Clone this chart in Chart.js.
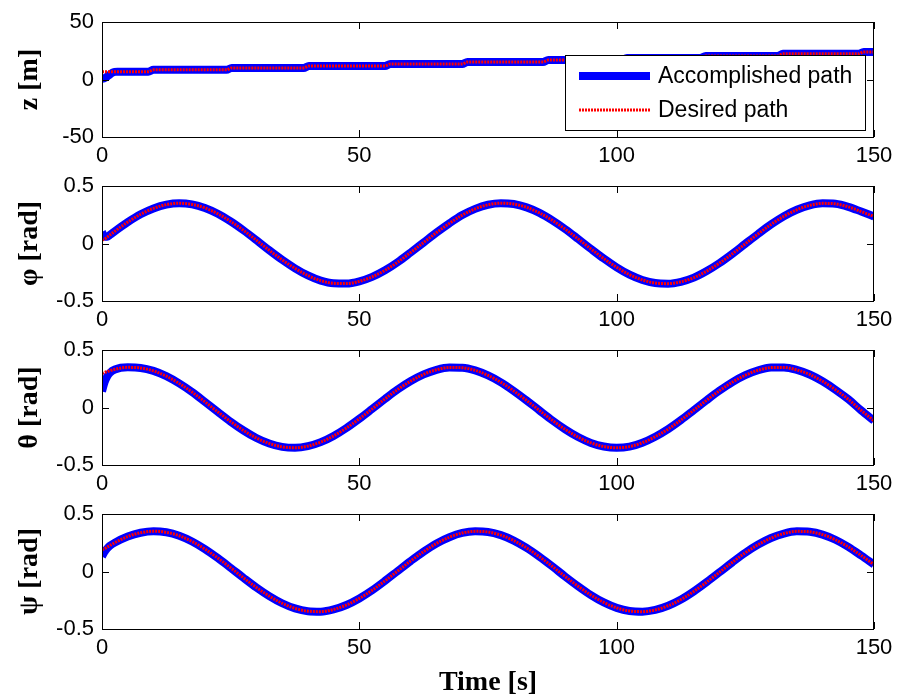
<!DOCTYPE html>
<html>
<head>
<meta charset="utf-8">
<title>Path tracking</title>
<script src="https://cdn.jsdelivr.net/npm/chart.js@4.4.0/dist/chart.umd.min.js"></script>
<style>
  html, body { margin: 0; padding: 0; background: #fff; overflow: hidden; }
  #wrap { position: relative; width: 898px; height: 700px; background: #fff; }
  #wrap canvas { position: absolute; left: 0; }
</style>
</head>
<body>
<div id="wrap">
  <canvas id="cz" width="898" height="165" style="top:12px"></canvas>
  <canvas id="cphi" width="898" height="165" style="top:176px"></canvas>
  <canvas id="ctheta" width="898" height="165" style="top:340px"></canvas>
  <canvas id="cpsi" width="898" height="196" style="top:504px"></canvas>
</div>
<script>
// --- data ---
const seriesLabels = ['Accomplished path', 'Desired path'];
const xTicks = [0, 50, 100, 150];
const zTicks = [-50, 0, 50];
const angleTicks = [-0.5, 0, 0.5];

// z [m] : stepped reference
const zTime = [0, 0.5, 1, 1.5, 2, 2.5, 3, 9, 10, 24.2, 25.2, 39.2, 40.2, 55, 56, 70, 71,
               85.7, 86.7, 101, 102, 116.3, 117.3, 131.3, 132.3, 147, 148, 150];
const zDesired = [6.8, 6.8, 6.8, 6.8, 6.8, 6.8, 6.8, 6.8, 8.4, 8.4, 10.1, 10.1, 11.8, 11.8, 13.5, 13.5, 15.2,
                  15.2, 16.9, 16.9, 18.7, 18.7, 20.5, 20.5, 22.3, 22.3, 24, 24];
const zAccStart = [0.5, 1.2, 2.5, 4.2, 5.8, 6.6, 6.8];

// angles [rad]
const time = [0, 0.5, 1, 1.5, 2.5, 5, 7.5, 10, 12.5, 15, 17.5, 20, 22.5, 25, 27.5, 30, 32.5, 35, 37.5, 40,
              42.5, 45, 47.5, 50, 52.5, 55, 57.5, 60, 62.5, 65, 67.5, 70, 72.5, 75, 77.5, 80, 82.5, 85,
              87.5, 90, 92.5, 95, 97.5, 100, 102.5, 105, 107.5, 110, 112.5, 115, 117.5, 120, 122.5, 125,
              127.5, 130, 132.5, 135, 137.5, 140, 142.5, 145, 147.5, 150];

const phiDesired = [0.03, 0.038, 0.056, 0.073, 0.107, 0.186, 0.254, 0.305, 0.338, 0.350, 0.340, 0.309,
  0.259, 0.192, 0.114, 0.029, -0.059, -0.142, -0.216, -0.278, -0.323, -0.346, -0.348, -0.329, -0.290,
  -0.233, -0.161, -0.077, 0.009, 0.095, 0.175, 0.247, 0.301, 0.337, 0.350, 0.343, 0.314, 0.266, 0.201,
  0.125, 0.040, -0.047, -0.131, -0.207, -0.271, -0.317, -0.344, -0.349, -0.333, -0.297, -0.240, -0.170,
  -0.089, -0.002, 0.084, 0.166, 0.237, 0.293, 0.331, 0.349, 0.345, 0.319, 0.278, 0.235];
const phiAccStart = [0.10, 0.06, 0.058, 0.073];

const thetaDesired = [0.295, 0.304, 0.312, 0.319, 0.332, 0.349, 0.344, 0.318, 0.272, 0.209, 0.134, 0.049,
  -0.038, -0.123, -0.200, -0.265, -0.313, -0.342, -0.350, -0.336, -0.301, -0.247, -0.178, -0.098, -0.012,
  0.075, 0.158, 0.230, 0.288, 0.328, 0.348, 0.346, 0.323, 0.279, 0.219, 0.144, 0.061, -0.026, -0.112,
  -0.190, -0.257, -0.308, -0.339, -0.350, -0.340, -0.306, -0.254, -0.188, -0.109, -0.023, 0.064, 0.147,
  0.221, 0.281, 0.324, 0.347, 0.348, 0.327, 0.287, 0.228, 0.155, 0.072, -0.025, -0.115];
const thetaAccStart = [0.14, 0.22, 0.27, 0.30, 0.33];

const psiDesired = [0.19, 0.198, 0.212, 0.225, 0.251, 0.304, 0.337, 0.350, 0.341, 0.311, 0.261, 0.195,
  0.117, 0.032, -0.055, -0.139, -0.214, -0.276, -0.321, -0.345, -0.349, -0.330, -0.291, -0.234, -0.163,
  -0.081, 0.006, 0.092, 0.173, 0.244, 0.298, 0.335, 0.349, 0.344, 0.316, 0.269, 0.205, 0.128, 0.044,
  -0.044, -0.128, -0.205, -0.269, -0.316, -0.343, -0.349, -0.334, -0.298, -0.244, -0.173, -0.092, -0.006,
  0.081, 0.163, 0.234, 0.291, 0.330, 0.349, 0.345, 0.321, 0.276, 0.214, 0.139, 0.06];
const psiAccStart = [0.13, 0.17, 0.20, 0.222];

// accomplished path = transient at start, then on top of the desired one
function withStart(start, desired) {
  return start.concat(desired.slice(start.length));
}
function pairs(xs, ys) {
  return xs.map((x, i) => ({ x: x, y: ys[i] }));
}

const tickFont = { family: '"Liberation Sans", Arial, sans-serif', size: 22 };
const titleFont = { family: '"Liberation Serif", "Times New Roman", serif', size: 28, weight: 'bold' };

// MATLAB style box with inward ticks on all four sides
const axesBox = {
  id: 'axesBox',
  afterDatasetsDraw(chart) {
    const { ctx, chartArea: a, scales: { x, y } } = chart;
    ctx.save();
    ctx.strokeStyle = '#000';
    ctx.lineWidth = 1;
    ctx.beginPath();
    x.ticks.forEach(t => {
      const px = Math.round(x.getPixelForValue(t.value)) + 0.5;
      ctx.moveTo(px, a.bottom); ctx.lineTo(px, a.bottom - 7);
      ctx.moveTo(px, a.top); ctx.lineTo(px, a.top + 7);
    });
    y.ticks.forEach(t => {
      const py = Math.round(y.getPixelForValue(t.value)) + 0.5;
      ctx.moveTo(a.left, py); ctx.lineTo(a.left + 7, py);
      ctx.moveTo(a.right, py); ctx.lineTo(a.right - 7, py);
    });
    ctx.stroke();
    ctx.strokeRect(a.left + 0.5, a.top + 0.5, a.right - a.left - 1, a.bottom - a.top);
    ctx.restore();
  }
};

// legend box inside the first axes
const pathLegend = {
  id: 'pathLegend',
  afterDatasetsDraw(chart) {
    const { ctx, chartArea: a } = chart;
    const left = a.right - 309, top = a.top + 33, w = 300, h = 75;
    ctx.save();
    ctx.fillStyle = '#fff';
    ctx.fillRect(left, top, w, h);
    ctx.strokeStyle = '#000';
    ctx.lineWidth = 1;
    ctx.strokeRect(left + 0.5, top + 0.5, w, h);
    seriesLabels.forEach((label, i) => {
      const ds = chart.data.datasets.find(d => d.label === label);
      const yy = top + 21 + i * 34;
      ctx.beginPath();
      ctx.strokeStyle = ds.borderColor;
      ctx.lineWidth = ds.borderWidth;
      ctx.setLineDash(ds.borderDash || []);
      ctx.moveTo(left + 14, yy);
      ctx.lineTo(left + 85, yy);
      ctx.stroke();
      ctx.setLineDash([]);
      ctx.fillStyle = '#000';
      ctx.font = '23px "Liberation Sans", Arial, sans-serif';
      ctx.textBaseline = 'middle';
      ctx.textAlign = 'left';
      ctx.fillText(label, left + 93, yy + 1);
    });
    ctx.restore();
  }
};

function buildChart(id, o) {
  return new Chart(document.getElementById(id), {
    type: 'line',
    data: {
      datasets: [
        {
          label: seriesLabels[0],
          data: pairs(o.t, o.acc),
          borderColor: '#0000ff',
          borderWidth: 8,
          borderJoinStyle: 'round',
          pointRadius: 0,
          cubicInterpolationMode: 'monotone',
          clip: 0,
          order: 2
        },
        {
          label: seriesLabels[1],
          data: pairs(o.t, o.des),
          borderColor: '#ff0000',
          borderWidth: 3,
          borderDash: [2, 1],
          pointRadius: 0,
          cubicInterpolationMode: 'monotone',
          clip: 0,
          order: 1
        }
      ]
    },
    options: {
      responsive: false,
      animation: false,
      devicePixelRatio: 1,
      layout: { padding: { top: 10, right: 24, left: 0, bottom: 0 } },
      plugins: { legend: { display: false }, tooltip: { enabled: false } },
      scales: {
        x: {
          type: 'linear',
          min: 0, max: 150,
          afterBuildTicks: s => { s.ticks = xTicks.map(v => ({ value: v })); },
          afterFit: s => { s.height = o.xHeight; s.paddingLeft = 0; s.paddingRight = 0; },
          grid: { display: false, drawTicks: false },
          border: { display: false },
          ticks: { font: tickFont, color: '#000', padding: 6, maxRotation: 0 },
          title: {
            display: !!o.xTitle, text: o.xTitle || '', font: titleFont, color: '#000',
            padding: { top: 0, bottom: 0 }
          }
        },
        y: {
          type: 'linear',
          min: o.yTicks[0], max: o.yTicks[o.yTicks.length - 1],
          afterBuildTicks: s => { s.ticks = o.yTicks.map(v => ({ value: v })); },
          afterFit: s => { s.width = 102; s.paddingTop = 0; s.paddingBottom = 0; },
          grid: { display: false, drawTicks: false },
          border: { display: false },
          ticks: { font: tickFont, color: '#000', padding: 8 },
          title: {
            display: true, text: o.yTitle, font: titleFont, color: '#000',
            padding: { top: 13, bottom: 0 }
          }
        }
      }
    },
    plugins: o.legend ? [axesBox, pathLegend] : [axesBox]
  });
}

buildChart('cz', {
  t: zTime, des: zDesired, acc: withStart(zAccStart, zDesired),
  yTicks: zTicks, yTitle: 'z [m]', xHeight: 40, legend: true
});
buildChart('cphi', {
  t: time, des: phiDesired, acc: withStart(phiAccStart, phiDesired),
  yTicks: angleTicks, yTitle: 'φ [rad]', xHeight: 40
});
buildChart('ctheta', {
  t: time, des: thetaDesired, acc: withStart(thetaAccStart, thetaDesired),
  yTicks: angleTicks, yTitle: 'θ [rad]', xHeight: 40
});
buildChart('cpsi', {
  t: time, des: psiDesired, acc: withStart(psiAccStart, psiDesired),
  yTicks: angleTicks, yTitle: 'ψ [rad]', xHeight: 71, xTitle: 'Time [s]'
});
</script>
</body>
</html>
